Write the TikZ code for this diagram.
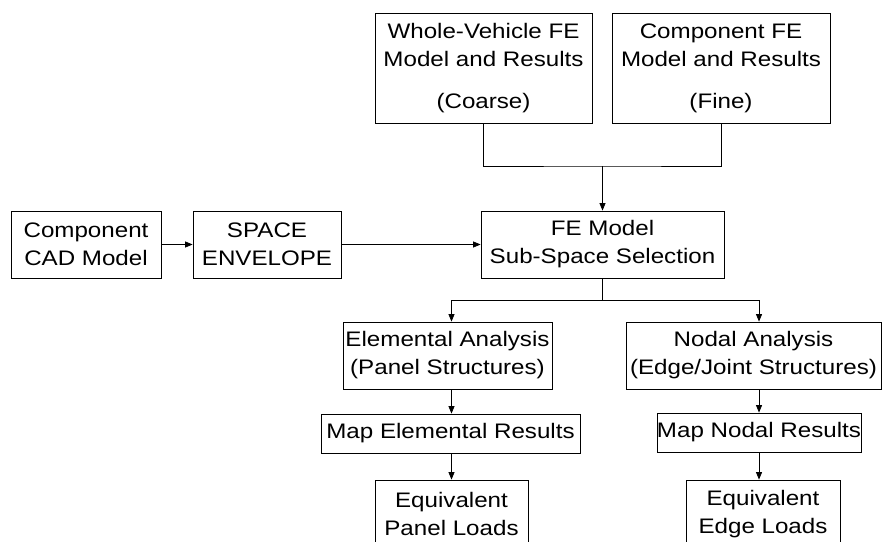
\documentclass[tikz,border=0pt]{standalone}
\usepackage{fontspec}
\setmainfont{Liberation Sans}[FakeStretch=1.15]
\usetikzlibrary{arrows.meta}
\begin{document}
\begin{tikzpicture}[x=1pt,y=-1pt,
  box/.style={draw, line width=0.8pt, inner sep=0pt, align=center, font=\fontsize{21}{28}\selectfont},
  arr/.style={line width=0.8pt, -{Triangle[length=7.5pt,width=6pt]}},
  ln/.style={line width=0.8pt}]
\clip (0,0) rectangle (882,541);
\fill[white] (0,0) rectangle (882,541);

\node[box, minimum width=217pt, minimum height=110pt] (wv) at (483.5,68) {Whole-Vehicle FE\\Model and Results\\[14pt](Coarse)};
\node[box, minimum width=218pt, minimum height=110pt] (cfe) at (721,68) {Component FE\\Model and Results\\[14pt](Fine)};
\node[box, minimum width=150pt, minimum height=67pt] (cad) at (86,244.5) {Component\\CAD Model};
\node[box, minimum width=148pt, minimum height=67pt] (env) at (267,244.5) {SPACE\\ENVELOPE};
\node[box, minimum width=243pt, minimum height=67pt] (fe) at (602.5,244.5) {FE Model\\Sub-Space Selection};
\node[box, minimum width=209pt, minimum height=67pt] (ela) at (447.5,355.5) {Elemental Analysis\\(Panel Structures)};
\node[box, minimum width=255pt, minimum height=67pt] (noa) at (753.5,355.5) {Nodal Analysis\\(Edge/Joint Structures)};
\node[box, minimum width=259pt, minimum height=39pt] (mapE) at (450.5,433.5) {Map Elemental Results};
\node[box, minimum width=202pt, minimum height=39pt] (mapN) at (759,432.5) {Map Nodal Results};
\node[box, minimum width=153pt, minimum height=68pt] (eqP) at (451.5,514) {Equivalent\\Panel Loads};
\node[box, minimum width=154pt, minimum height=68pt] (eqE) at (763,514) {Equivalent\\Edge Loads};

\coordinate (jt) at (602.5,166);
\coordinate (jb) at (602.5,300);

\draw[ln] (wv.south) |- (jt) -| (cfe.south);
\draw[arr] (jt) -- (fe.north);
\draw[arr] (cad) -- (env);
\draw[arr] (env) -- (fe);
\draw[ln] (fe.south) -- (jb);
\draw[arr] (jb) -| (ela.north -| eqP.north);
\draw[arr] (jb) -| (noa.north -| mapN.north);
\draw[arr] (ela.south -| eqP.north) -- (mapE.north -| eqP.north);
\draw[arr] (mapE.south -| eqP.north) -- (eqP.north);
\draw[arr] (noa.south -| mapN.north) -- (mapN.north);
\draw[arr] (mapN.south) -- (eqE.north -| mapN.south);
\end{tikzpicture}
\end{document}
